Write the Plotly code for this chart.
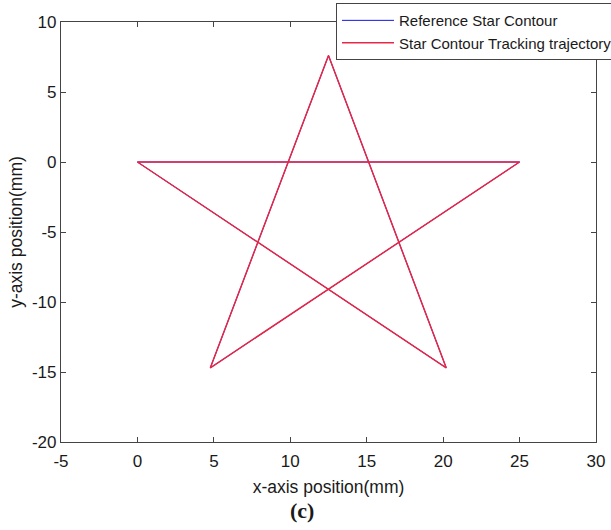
import plotly.graph_objects as go

# Star vertices (mm), closed contour
ref_x = [0.0, 25.0, 4.77, 12.5, 20.2, 0.0]
ref_y = [0.0, 0.0, -14.7, 7.6, -14.7, 0.0]

# Tracked trajectory (overlays the reference)
trk_x = [0.0, 25.0, 4.77, 12.5, 20.2, 0.0]
trk_y = [0.0, 0.0, -14.7, 7.6, -14.7, 0.0]

x_ticks = [-5, 0, 5, 10, 15, 20, 25, 30]
x_labels = ["-5", "0", "5", "10", "15", "20", "25", "30"]
y_ticks = [-20, -15, -10, -5, 0, 5, 10]
y_labels = ["-20", "-15", "-10", "-5", "0", "5", "10"]

FONT = "Liberation Sans, Arial"
INK = "#1a1a1a"

fig = go.Figure()
fig.add_trace(go.Scatter(x=ref_x, y=ref_y, mode="lines",
                         name="Reference Star Contour",
                         line=dict(color="rgb(20,20,230)", width=1.0)))
fig.add_trace(go.Scatter(x=trk_x, y=trk_y, mode="lines",
                         name="Star Contour Tracking trajectory",
                         line=dict(color="rgb(228,40,70)", width=1.5)))

axis_common = dict(
    showgrid=False, zeroline=False, showline=True, mirror="ticks",
    linecolor="#444444", linewidth=1.2,
    ticks="inside", ticklen=5, tickcolor="#444444", tickwidth=1,
    tickfont=dict(family=FONT, size=17, color=INK),
)

fig.update_xaxes(range=[-5, 30], tickvals=x_ticks, ticktext=x_labels, **axis_common,
                 ticklabelstandoff=3,
                 title=dict(text="x-axis position(mm)", standoff=11,
                            font=dict(family=FONT, size=17.5, color=INK)))
fig.update_yaxes(range=[-20, 10], tickvals=y_ticks, ticktext=y_labels, **axis_common,
                 title=dict(text="y-axis position(mm)", standoff=4,
                            font=dict(family=FONT, size=17.5, color=INK)))

fig.add_annotation(text="<b>(c)</b>", xref="paper", yref="paper",
                   x=0.45, y=-0.163, xanchor="center", yanchor="middle",
                   showarrow=False,
                   font=dict(family="Liberation Serif, Times New Roman", size=22, color=INK))

fig.update_layout(
    width=611, height=530,
    margin=dict(l=61, r=15, t=22, b=88, autoexpand=False),
    plot_bgcolor="white", paper_bgcolor="white",
    legend=dict(x=0.514, y=1.045, xanchor="left", yanchor="top",
                bgcolor="white", bordercolor="#444444", borderwidth=1,
                font=dict(family=FONT, size=15, color=INK),
                tracegroupgap=0, itemwidth=52),
    showlegend=True,
)

fig.write_html("out.html")
